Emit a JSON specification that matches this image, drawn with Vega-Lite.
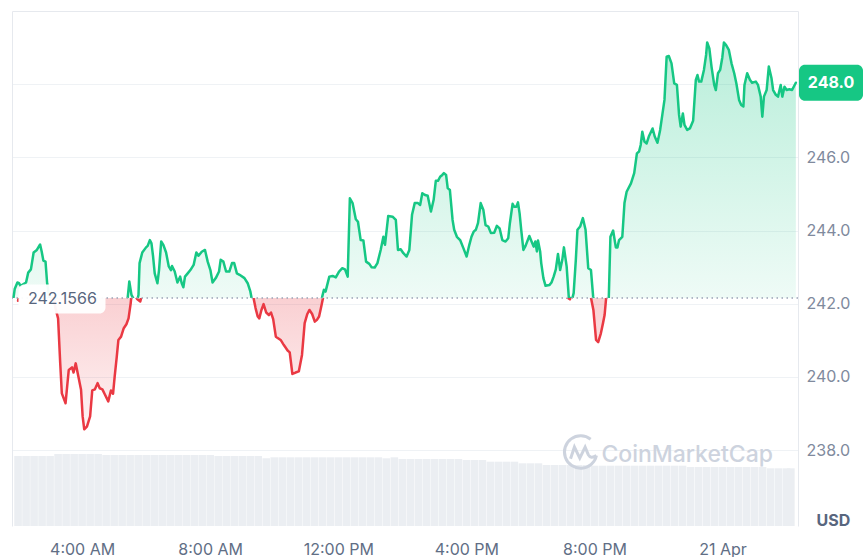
{
  "$schema": "https://vega.github.io/schema/vega-lite/v6.json",
  "padding": {"left": 11, "top": 11, "right": 0, "bottom": 0},
  "spacing": 0,
  "bounds": "flush",
  "config": {
    "font": "Inter",
    "view": {"stroke": null},
    "axis": {"labelFont": "Inter", "titleFont": "Inter", "domainColor": "#e6e9ee", "gridColor": "#eff2f5", "labelColor": "#808a9d", "labelFontSize": 16, "ticks": false}
  },
  "datasets": {
    "price": [
      {"t":"2024-04-20T02:00Z","p":242.08},{"t":"2024-04-20T02:03Z","p":242.40},{"t":"2024-04-20T02:08Z","p":242.58},{"t":"2024-04-20T02:11Z","p":242.56},{"t":"2024-04-20T02:14Z","p":242.49},{"t":"2024-04-20T02:24Z","p":242.58},{"t":"2024-04-20T02:28Z","p":242.85},{"t":"2024-04-20T02:33Z","p":242.94},{"t":"2024-04-20T02:38Z","p":243.40},{"t":"2024-04-20T02:44Z","p":243.47},{"t":"2024-04-20T02:50Z","p":243.62},{"t":"2024-04-20T02:53Z","p":243.42},{"t":"2024-04-20T02:56Z","p":243.18},{"t":"2024-04-20T03:00Z","p":243.15},{"t":"2024-04-20T03:03Z","p":242.56},{"t":"2024-04-20T03:10Z","p":241.88},{"t":"2024-04-20T03:15Z","p":241.60},{"t":"2024-04-20T03:19Z","p":240.37},{"t":"2024-04-20T03:22Z","p":239.55},{"t":"2024-04-20T03:29Z","p":239.28},{"t":"2024-04-20T03:32Z","p":239.74},{"t":"2024-04-20T03:35Z","p":240.19},{"t":"2024-04-20T03:41Z","p":240.26},{"t":"2024-04-20T03:44Z","p":240.12},{"t":"2024-04-20T03:48Z","p":240.37},{"t":"2024-04-20T03:53Z","p":240.01},{"t":"2024-04-20T03:58Z","p":239.65},{"t":"2024-04-20T04:01Z","p":238.92},{"t":"2024-04-20T04:04Z","p":238.57},{"t":"2024-04-20T04:09Z","p":238.64},{"t":"2024-04-20T04:15Z","p":238.92},{"t":"2024-04-20T04:19Z","p":239.63},{"t":"2024-04-20T04:24Z","p":239.66},{"t":"2024-04-20T04:29Z","p":239.83},{"t":"2024-04-20T04:33Z","p":239.69},{"t":"2024-04-20T04:38Z","p":239.66},{"t":"2024-04-20T04:42Z","p":239.54},{"t":"2024-04-20T04:49Z","p":239.33},{"t":"2024-04-20T04:54Z","p":239.63},{"t":"2024-04-20T04:58Z","p":239.54},{"t":"2024-04-20T05:01Z","p":240.01},{"t":"2024-04-20T05:05Z","p":240.56},{"t":"2024-04-20T05:08Z","p":241.01},{"t":"2024-04-20T05:13Z","p":241.10},{"t":"2024-04-20T05:18Z","p":241.33},{"t":"2024-04-20T05:23Z","p":241.44},{"t":"2024-04-20T05:27Z","p":241.60},{"t":"2024-04-20T05:31Z","p":242.01},{"t":"2024-04-20T05:35Z","p":242.61},{"t":"2024-04-20T05:39Z","p":242.24},{"t":"2024-04-20T05:43Z","p":242.13},{"t":"2024-04-20T05:49Z","p":242.06},{"t":"2024-04-20T05:52Z","p":242.24},{"t":"2024-04-20T05:54Z","p":243.11},{"t":"2024-04-20T05:59Z","p":243.40},{"t":"2024-04-20T06:06Z","p":243.54},{"t":"2024-04-20T06:09Z","p":243.58},{"t":"2024-04-20T06:13Z","p":243.74},{"t":"2024-04-20T06:16Z","p":243.65},{"t":"2024-04-20T06:19Z","p":243.29},{"t":"2024-04-20T06:22Z","p":242.83},{"t":"2024-04-20T06:27Z","p":242.56},{"t":"2024-04-20T06:30Z","p":242.92},{"t":"2024-04-20T06:34Z","p":243.70},{"t":"2024-04-20T06:38Z","p":243.61},{"t":"2024-04-20T06:43Z","p":243.40},{"t":"2024-04-20T06:48Z","p":243.02},{"t":"2024-04-20T06:52Z","p":242.92},{"t":"2024-04-20T06:54Z","p":243.03},{"t":"2024-04-20T06:59Z","p":242.88},{"t":"2024-04-20T07:04Z","p":242.58},{"t":"2024-04-20T07:09Z","p":242.74},{"t":"2024-04-20T07:12Z","p":242.56},{"t":"2024-04-20T07:15Z","p":242.45},{"t":"2024-04-20T07:18Z","p":242.74},{"t":"2024-04-20T07:23Z","p":242.83},{"t":"2024-04-20T07:28Z","p":242.92},{"t":"2024-04-20T07:34Z","p":243.06},{"t":"2024-04-20T07:39Z","p":243.40},{"t":"2024-04-20T07:43Z","p":243.31},{"t":"2024-04-20T07:49Z","p":243.42},{"t":"2024-04-20T07:55Z","p":243.47},{"t":"2024-04-20T08:00Z","p":243.15},{"t":"2024-04-20T08:05Z","p":242.92},{"t":"2024-04-20T08:09Z","p":242.58},{"t":"2024-04-20T08:15Z","p":242.70},{"t":"2024-04-20T08:21Z","p":242.88},{"t":"2024-04-20T08:24Z","p":243.20},{"t":"2024-04-20T08:29Z","p":243.15},{"t":"2024-04-20T08:34Z","p":242.88},{"t":"2024-04-20T08:40Z","p":242.88},{"t":"2024-04-20T08:45Z","p":243.11},{"t":"2024-04-20T08:49Z","p":243.11},{"t":"2024-04-20T08:54Z","p":242.83},{"t":"2024-04-20T08:59Z","p":242.79},{"t":"2024-04-20T09:08Z","p":242.70},{"t":"2024-04-20T09:14Z","p":242.56},{"t":"2024-04-20T09:19Z","p":242.33},{"t":"2024-04-20T09:21Z","p":242.17},{"t":"2024-04-20T09:25Z","p":241.88},{"t":"2024-04-20T09:29Z","p":241.65},{"t":"2024-04-20T09:32Z","p":241.60},{"t":"2024-04-20T09:36Z","p":241.83},{"t":"2024-04-20T09:40Z","p":241.99},{"t":"2024-04-20T09:45Z","p":241.76},{"t":"2024-04-20T09:50Z","p":241.69},{"t":"2024-04-20T09:54Z","p":241.76},{"t":"2024-04-20T09:58Z","p":241.58},{"t":"2024-04-20T10:03Z","p":241.10},{"t":"2024-04-20T10:12Z","p":241.01},{"t":"2024-04-20T10:18Z","p":240.87},{"t":"2024-04-20T10:25Z","p":240.72},{"t":"2024-04-20T10:29Z","p":240.67},{"t":"2024-04-20T10:34Z","p":240.08},{"t":"2024-04-20T10:40Z","p":240.12},{"t":"2024-04-20T10:46Z","p":240.15},
      {"t":"2024-04-20T10:52Z","p":240.60},{"t":"2024-04-20T10:57Z","p":241.47},{"t":"2024-04-20T11:02Z","p":241.72},{"t":"2024-04-20T11:06Z","p":241.83},{"t":"2024-04-20T11:11Z","p":241.72},{"t":"2024-04-20T11:16Z","p":241.51},{"t":"2024-04-20T11:20Z","p":241.56},{"t":"2024-04-20T11:24Z","p":241.65},{"t":"2024-04-20T11:28Z","p":241.92},{"t":"2024-04-20T11:32Z","p":242.20},{"t":"2024-04-20T11:35Z","p":242.38},{"t":"2024-04-20T11:38Z","p":242.33},{"t":"2024-04-20T11:45Z","p":242.74},{"t":"2024-04-20T11:51Z","p":242.76},{"t":"2024-04-20T11:57Z","p":242.72},{"t":"2024-04-20T12:03Z","p":242.88},{"t":"2024-04-20T12:09Z","p":242.97},{"t":"2024-04-20T12:14Z","p":242.94},{"t":"2024-04-20T12:19Z","p":242.74},{"t":"2024-04-20T12:23Z","p":244.88},{"t":"2024-04-20T12:28Z","p":244.75},{"t":"2024-04-20T12:34Z","p":244.31},{"t":"2024-04-20T12:38Z","p":244.24},{"t":"2024-04-20T12:43Z","p":243.74},{"t":"2024-04-20T12:48Z","p":243.73},{"t":"2024-04-20T12:53Z","p":243.15},{"t":"2024-04-20T12:59Z","p":243.09},{"t":"2024-04-20T13:03Z","p":243.00},{"t":"2024-04-20T13:09Z","p":242.99},{"t":"2024-04-20T13:14Z","p":243.11},{"t":"2024-04-20T13:20Z","p":243.47},{"t":"2024-04-20T13:25Z","p":243.83},{"t":"2024-04-20T13:28Z","p":243.61},{"t":"2024-04-20T13:34Z","p":244.40},{"t":"2024-04-20T13:42Z","p":244.38},{"t":"2024-04-20T13:48Z","p":244.29},{"t":"2024-04-20T13:52Z","p":243.47},{"t":"2024-04-20T13:57Z","p":243.49},{"t":"2024-04-20T14:02Z","p":243.38},{"t":"2024-04-20T14:08Z","p":243.29},{"t":"2024-04-20T14:13Z","p":243.47},{"t":"2024-04-20T14:18Z","p":244.43},{"t":"2024-04-20T14:23Z","p":244.75},{"t":"2024-04-20T14:29Z","p":244.75},{"t":"2024-04-20T14:33Z","p":244.70},{"t":"2024-04-20T14:37Z","p":245.02},{"t":"2024-04-20T14:42Z","p":244.97},{"t":"2024-04-20T14:47Z","p":244.95},{"t":"2024-04-20T14:53Z","p":244.52},{"t":"2024-04-20T14:58Z","p":244.84},{"t":"2024-04-20T15:02Z","p":245.36},{"t":"2024-04-20T15:06Z","p":245.36},{"t":"2024-04-20T15:10Z","p":245.47},{"t":"2024-04-20T15:14Z","p":245.52},{"t":"2024-04-20T15:17Z","p":245.57},{"t":"2024-04-20T15:21Z","p":245.52},{"t":"2024-04-20T15:24Z","p":245.16},{"t":"2024-04-20T15:28Z","p":245.11},{"t":"2024-04-20T15:33Z","p":244.29},{"t":"2024-04-20T15:36Z","p":244.02},{"t":"2024-04-20T15:41Z","p":243.83},{"t":"2024-04-20T15:47Z","p":243.74},{"t":"2024-04-20T15:53Z","p":243.52},{"t":"2024-04-20T15:59Z","p":243.29},{"t":"2024-04-20T16:04Z","p":243.61},{"t":"2024-04-20T16:08Z","p":243.83},{"t":"2024-04-20T16:12Z","p":243.97},{"t":"2024-04-20T16:16Z","p":244.02},{"t":"2024-04-20T16:20Z","p":244.20},{"t":"2024-04-20T16:25Z","p":244.75},{"t":"2024-04-20T16:30Z","p":244.56},{"t":"2024-04-20T16:34Z","p":244.15},{"t":"2024-04-20T16:39Z","p":244.11},{"t":"2024-04-20T16:44Z","p":243.93},{"t":"2024-04-20T16:50Z","p":243.94},{"t":"2024-04-20T16:55Z","p":244.13},{"t":"2024-04-20T17:00Z","p":244.06},{"t":"2024-04-20T17:05Z","p":243.74},{"t":"2024-04-20T17:11Z","p":243.70},{"t":"2024-04-20T17:16Z","p":243.79},{"t":"2024-04-20T17:19Z","p":244.20},{"t":"2024-04-20T17:24Z","p":244.73},{"t":"2024-04-20T17:27Z","p":244.65},{"t":"2024-04-20T17:31Z","p":244.65},{"t":"2024-04-20T17:34Z","p":244.77},{"t":"2024-04-20T17:37Z","p":244.47},{"t":"2024-04-20T17:40Z","p":244.02},{"t":"2024-04-20T17:44Z","p":243.47},{"t":"2024-04-20T17:48Z","p":243.58},{"t":"2024-04-20T17:55Z","p":243.85},{"t":"2024-04-20T17:58Z","p":243.74},{"t":"2024-04-20T18:03Z","p":243.56},{"t":"2024-04-20T18:06Z","p":243.70},{"t":"2024-04-20T18:09Z","p":243.43},{"t":"2024-04-20T18:11Z","p":243.73},{"t":"2024-04-20T18:15Z","p":243.43},{"t":"2024-04-20T18:17Z","p":243.11},{"t":"2024-04-20T18:21Z","p":242.70},{"t":"2024-04-20T18:25Z","p":242.49},{"t":"2024-04-20T18:32Z","p":242.51},{"t":"2024-04-20T18:36Z","p":242.58},{"t":"2024-04-20T18:40Z","p":242.74},{"t":"2024-04-20T18:44Z","p":242.94},{"t":"2024-04-20T18:48Z","p":243.36},{"t":"2024-04-20T18:52Z","p":242.92},{"t":"2024-04-20T18:56Z","p":243.20},{"t":"2024-04-20T18:59Z","p":243.54},{"t":"2024-04-20T19:04Z","p":243.02},{"t":"2024-04-20T19:08Z","p":242.18},{"t":"2024-04-20T19:14Z","p":242.12},{"t":"2024-04-20T19:17Z","p":242.29},{"t":"2024-04-20T19:21Z","p":243.20},{"t":"2024-04-20T19:24Z","p":244.02},{"t":"2024-04-20T19:29Z","p":244.11},{"t":"2024-04-20T19:34Z","p":244.34},{"t":"2024-04-20T19:39Z","p":244.02},{"t":"2024-04-20T19:44Z","p":242.97},{"t":"2024-04-20T19:49Z","p":242.92},{"t":"2024-04-20T19:53Z","p":242.20},{"t":"2024-04-20T19:58Z","p":241.83},{"t":"2024-04-20T20:03Z","p":241.01},{"t":"2024-04-20T20:07Z","p":240.95},{"t":"2024-04-20T20:12Z","p":241.19},{"t":"2024-04-20T20:16Z","p":241.47},{"t":"2024-04-20T20:19Z","p":241.69},{"t":"2024-04-20T20:22Z","p":242.18},{"t":"2024-04-20T20:25Z","p":243.83},{"t":"2024-04-20T20:30Z","p":244.00},{"t":"2024-04-20T20:35Z","p":243.54},{"t":"2024-04-20T20:38Z","p":243.54},{"t":"2024-04-20T20:41Z","p":243.74},
      {"t":"2024-04-20T20:47Z","p":243.83},{"t":"2024-04-20T20:51Z","p":244.75},{"t":"2024-04-20T20:55Z","p":245.06},{"t":"2024-04-20T21:03Z","p":245.29},{"t":"2024-04-20T21:09Z","p":245.57},{"t":"2024-04-20T21:14Z","p":246.11},{"t":"2024-04-20T21:18Z","p":246.16},{"t":"2024-04-20T21:21Z","p":246.34},{"t":"2024-04-20T21:24Z","p":246.70},{"t":"2024-04-20T21:28Z","p":246.43},{"t":"2024-04-20T21:32Z","p":246.38},{"t":"2024-04-20T21:36Z","p":246.57},{"t":"2024-04-20T21:43Z","p":246.79},{"t":"2024-04-20T21:47Z","p":246.57},{"t":"2024-04-20T21:52Z","p":246.40},{"t":"2024-04-20T21:57Z","p":246.75},{"t":"2024-04-20T22:01Z","p":247.16},{"t":"2024-04-20T22:05Z","p":247.57},{"t":"2024-04-20T22:09Z","p":248.75},{"t":"2024-04-20T22:13Z","p":248.77},{"t":"2024-04-20T22:18Z","p":248.57},{"t":"2024-04-20T22:23Z","p":248.02},{"t":"2024-04-20T22:28Z","p":247.98},{"t":"2024-04-20T22:32Z","p":247.16},{"t":"2024-04-20T22:35Z","p":246.84},{"t":"2024-04-20T22:39Z","p":247.20},{"t":"2024-04-20T22:42Z","p":246.89},{"t":"2024-04-20T22:47Z","p":246.75},{"t":"2024-04-20T22:52Z","p":246.79},{"t":"2024-04-20T22:58Z","p":247.00},{"t":"2024-04-20T23:03Z","p":248.12},{"t":"2024-04-20T23:06Z","p":248.25},{"t":"2024-04-20T23:09Z","p":248.07},{"t":"2024-04-20T23:13Z","p":248.07},{"t":"2024-04-20T23:18Z","p":248.39},{"t":"2024-04-20T23:22Z","p":248.80},{"t":"2024-04-20T23:24Z","p":249.14},{"t":"2024-04-20T23:28Z","p":248.98},{"t":"2024-04-20T23:32Z","p":248.48},{"t":"2024-04-20T23:37Z","p":247.98},{"t":"2024-04-20T23:40Z","p":247.84},{"t":"2024-04-20T23:44Z","p":248.30},{"t":"2024-04-20T23:48Z","p":248.39},{"t":"2024-04-20T23:52Z","p":248.73},{"t":"2024-04-20T23:55Z","p":249.14},{"t":"2024-04-20T23:59Z","p":249.07},{"t":"2024-04-21T00:04Z","p":248.94},{"t":"2024-04-21T00:09Z","p":248.57},{"t":"2024-04-21T00:14Z","p":248.30},{"t":"2024-04-21T00:18Z","p":248.02},{"t":"2024-04-21T00:23Z","p":247.57},{"t":"2024-04-21T00:27Z","p":247.43},{"t":"2024-04-21T00:31Z","p":247.39},{"t":"2024-04-21T00:33Z","p":247.98},{"t":"2024-04-21T00:38Z","p":248.30},{"t":"2024-04-21T00:43Z","p":248.12},{"t":"2024-04-21T00:47Z","p":248.04},{"t":"2024-04-21T00:54Z","p":248.07},{"t":"2024-04-21T00:58Z","p":247.98},{"t":"2024-04-21T01:03Z","p":247.66},{"t":"2024-04-21T01:06Z","p":247.11},{"t":"2024-04-21T01:09Z","p":247.66},{"t":"2024-04-21T01:14Z","p":247.84},{"t":"2024-04-21T01:18Z","p":248.48},{"t":"2024-04-21T01:23Z","p":248.16},{"t":"2024-04-21T01:26Z","p":247.84},{"t":"2024-04-21T01:31Z","p":247.71},{"t":"2024-04-21T01:35Z","p":247.66},{"t":"2024-04-21T01:40Z","p":247.98},{"t":"2024-04-21T01:43Z","p":247.66},{"t":"2024-04-21T01:47Z","p":247.93},{"t":"2024-04-21T01:51Z","p":247.84},{"t":"2024-04-21T01:56Z","p":247.86},{"t":"2024-04-21T02:01Z","p":247.84},{"t":"2024-04-21T02:08Z","p":248.04}
    ],
    "volume": [
      {"t":"2024-04-20T02:00Z","vol":70},{"t":"2024-04-20T02:15Z","vol":70},{"t":"2024-04-20T02:30Z","vol":70},{"t":"2024-04-20T02:45Z","vol":70},{"t":"2024-04-20T03:00Z","vol":70},
      {"t":"2024-04-20T03:15Z","vol":72},{"t":"2024-04-20T03:30Z","vol":72},{"t":"2024-04-20T03:45Z","vol":72},{"t":"2024-04-20T04:00Z","vol":72},{"t":"2024-04-20T04:15Z","vol":72},{"t":"2024-04-20T04:30Z","vol":72},
      {"t":"2024-04-20T04:45Z","vol":71},{"t":"2024-04-20T05:00Z","vol":71},{"t":"2024-04-20T05:15Z","vol":71},{"t":"2024-04-20T05:30Z","vol":71},{"t":"2024-04-20T05:45Z","vol":71},{"t":"2024-04-20T06:00Z","vol":71},{"t":"2024-04-20T06:15Z","vol":71},{"t":"2024-04-20T06:30Z","vol":71},{"t":"2024-04-20T06:45Z","vol":71},{"t":"2024-04-20T07:00Z","vol":71},{"t":"2024-04-20T07:15Z","vol":71},{"t":"2024-04-20T07:30Z","vol":71},{"t":"2024-04-20T07:45Z","vol":71},{"t":"2024-04-20T08:00Z","vol":71},
      {"t":"2024-04-20T08:15Z","vol":70},{"t":"2024-04-20T08:30Z","vol":70},{"t":"2024-04-20T08:45Z","vol":70},{"t":"2024-04-20T09:00Z","vol":70},{"t":"2024-04-20T09:15Z","vol":70},{"t":"2024-04-20T09:30Z","vol":70},
      {"t":"2024-04-20T09:45Z","vol":67.7},
      {"t":"2024-04-20T10:00Z","vol":68.7},{"t":"2024-04-20T10:15Z","vol":68.7},{"t":"2024-04-20T10:30Z","vol":68.7},{"t":"2024-04-20T10:45Z","vol":68.7},{"t":"2024-04-20T11:00Z","vol":68.7},{"t":"2024-04-20T11:15Z","vol":68.7},{"t":"2024-04-20T11:30Z","vol":68.7},{"t":"2024-04-20T11:45Z","vol":68.7},{"t":"2024-04-20T12:00Z","vol":68.7},{"t":"2024-04-20T12:15Z","vol":68.7},{"t":"2024-04-20T12:30Z","vol":68.7},{"t":"2024-04-20T12:45Z","vol":68.7},{"t":"2024-04-20T13:00Z","vol":68.7},{"t":"2024-04-20T13:15Z","vol":68.7},
      {"t":"2024-04-20T13:30Z","vol":67.7},{"t":"2024-04-20T13:45Z","vol":68.7},
      {"t":"2024-04-20T14:00Z","vol":67},{"t":"2024-04-20T14:15Z","vol":67},{"t":"2024-04-20T14:30Z","vol":67},{"t":"2024-04-20T14:45Z","vol":67},{"t":"2024-04-20T15:00Z","vol":67},{"t":"2024-04-20T15:15Z","vol":67},{"t":"2024-04-20T15:30Z","vol":67},{"t":"2024-04-20T15:45Z","vol":67},
      {"t":"2024-04-20T16:00Z","vol":66},{"t":"2024-04-20T16:15Z","vol":66},{"t":"2024-04-20T16:30Z","vol":66},
      {"t":"2024-04-20T16:45Z","vol":64.3},{"t":"2024-04-20T17:00Z","vol":64.3},{"t":"2024-04-20T17:15Z","vol":64.3},{"t":"2024-04-20T17:30Z","vol":64.3},
      {"t":"2024-04-20T17:45Z","vol":62.7},{"t":"2024-04-20T18:00Z","vol":62.7},{"t":"2024-04-20T18:15Z","vol":62.7},
      {"t":"2024-04-20T18:30Z","vol":61},{"t":"2024-04-20T18:45Z","vol":61},{"t":"2024-04-20T19:00Z","vol":61},{"t":"2024-04-20T19:15Z","vol":61},{"t":"2024-04-20T19:30Z","vol":61},{"t":"2024-04-20T19:45Z","vol":61},
      {"t":"2024-04-20T20:00Z","vol":60.3},{"t":"2024-04-20T20:15Z","vol":60.3},{"t":"2024-04-20T20:30Z","vol":60.3},{"t":"2024-04-20T20:45Z","vol":60.3},{"t":"2024-04-20T21:00Z","vol":60.3},{"t":"2024-04-20T21:15Z","vol":60.3},{"t":"2024-04-20T21:30Z","vol":60.3},{"t":"2024-04-20T21:45Z","vol":60.3},{"t":"2024-04-20T22:00Z","vol":60.3},{"t":"2024-04-20T22:15Z","vol":60.3},{"t":"2024-04-20T22:30Z","vol":60.3},{"t":"2024-04-20T22:45Z","vol":60.3},
      {"t":"2024-04-20T23:00Z","vol":59},{"t":"2024-04-20T23:15Z","vol":59},{"t":"2024-04-20T23:30Z","vol":59},{"t":"2024-04-20T23:45Z","vol":59},{"t":"2024-04-21T00:00Z","vol":59},{"t":"2024-04-21T00:15Z","vol":59},{"t":"2024-04-21T00:30Z","vol":59},{"t":"2024-04-21T00:45Z","vol":59},{"t":"2024-04-21T01:00Z","vol":59},{"t":"2024-04-21T01:15Z","vol":59},
      {"t":"2024-04-21T01:30Z","vol":57.7},{"t":"2024-04-21T01:45Z","vol":57.7},{"t":"2024-04-21T02:00Z","vol":57.7},{"t":"2024-04-21T02:08Z","vol":57.7}
    ]
  },
  "vconcat": [
    {
      "width": 786,
      "height": 287,
      "layer": [
        {
          "data": {"name": "price"},
          "mark": {"type": "area", "clip": true, "color": {"gradient": "linear", "x1": 0, "y1": 0, "x2": 0, "y2": 1, "stops": [{"offset": 0, "color": "rgba(22,199,132,0.30)"}, {"offset": 1, "color": "rgba(22,199,132,0.07)"}]}},
          "encoding": {
            "x": {"field": "t", "type": "temporal", "scale": {"type": "utc", "domain": [{"year": 2024, "month": "apr", "date": 20, "hours": 1, "minutes": 58, "utc": true}, {"year": 2024, "month": "apr", "date": 21, "hours": 2, "minutes": 12, "utc": true}]}, "axis": {"orient": "top", "labels": false, "ticks": false, "grid": false, "domain": true, "title": null}},
            "y": {"field": "p", "type": "quantitative", "scale": {"domain": [242.1566, 250], "clamp": true, "nice": false, "zero": false}, "axis": {"orient": "left", "labels": false, "ticks": false, "grid": false, "domain": true, "title": null}},
            "y2": {"datum": 242.1566}
          }
        },
        {
          "layer": [
            {
              "data": {"name": "price"},
              "mark": {"type": "line", "clip": true, "color": "#16c784", "strokeWidth": 2.5, "strokeJoin": "round", "strokeCap": "round"},
              "encoding": {
                "x": {"field": "t", "type": "temporal", "scale": {"type": "utc", "domain": [{"year": 2024, "month": "apr", "date": 20, "hours": 1, "minutes": 58, "utc": true}, {"year": 2024, "month": "apr", "date": 21, "hours": 2, "minutes": 12, "utc": true}]}, "axis": {"orient": "top", "labels": false, "ticks": false, "grid": false, "domain": true, "title": null}},
                "y": {"field": "p", "type": "quantitative", "scale": {"domain": [242.1566, 250], "nice": false, "zero": false}, "axis": {"orient": "right", "values": [244, 246, 248], "labelExpr": "datum.value == 248 ? '' : format(datum.value, '.1f')", "grid": true, "domain": true, "labelPadding": 8, "title": null}}
              }
            },
            {
              "data": {"values": [{}]},
              "mark": {"type": "rect", "color": "#16c784", "width": 64, "height": 36, "cornerRadius": 6, "xOffset": 33},
              "encoding": {
                "x": {"datum": {"year": 2024, "month": "apr", "date": 21, "hours": 2, "minutes": 12, "utc": true}, "type": "temporal"},
                "y": {"datum": 248.04}
              }
            },
            {
              "data": {"values": [{}]},
              "mark": {"type": "text", "color": "#ffffff", "fontWeight": "bold", "fontSize": 16, "font": "Inter", "align": "center", "baseline": "middle", "xOffset": 33},
              "encoding": {
                "x": {"datum": {"year": 2024, "month": "apr", "date": 21, "hours": 2, "minutes": 12, "utc": true}, "type": "temporal"},
                "y": {"datum": 248.04},
                "text": {"value": "248.0"}
              }
            }
          ]
        }
      ],
      "resolve": {"scale": {"y": "independent"}, "axis": {"y": "independent"}}
    },
    {
      "width": 786,
      "height": 228,
      "layer": [
        {
          "data": {"name": "volume"},
          "mark": {"type": "bar", "clip": true, "color": "#ebeef2", "width": 7.6},
          "encoding": {
            "x": {"field": "t", "type": "temporal", "scale": {"type": "utc", "domain": [{"year": 2024, "month": "apr", "date": 20, "hours": 1, "minutes": 58, "utc": true}, {"year": 2024, "month": "apr", "date": 21, "hours": 2, "minutes": 12, "utc": true}]}, "axis": {"orient": "bottom", "values": [{"year": 2024, "month": "apr", "date": 20, "hours": 4, "utc": true}, {"year": 2024, "month": "apr", "date": 20, "hours": 8, "utc": true}, {"year": 2024, "month": "apr", "date": 20, "hours": 12, "utc": true}, {"year": 2024, "month": "apr", "date": 20, "hours": 16, "utc": true}, {"year": 2024, "month": "apr", "date": 20, "hours": 20, "utc": true}, {"year": 2024, "month": "apr", "date": 21, "hours": 0, "utc": true}], "labelExpr": "utchours(datum.value) == 0 ? utcFormat(datum.value, '%-d %b') : utcFormat(datum.value, '%-I:%M %p')", "labelColor": "#616e85", "labelPadding": 15, "ticks": false, "grid": false, "domain": false, "title": null}},
            "y": {"field": "vol", "type": "quantitative", "scale": {"domain": [0, 228]}, "axis": null}
          }
        },
        {
          "data": {"name": "price"},
          "mark": {"type": "area", "clip": true, "color": {"gradient": "linear", "x1": 0, "y1": 0, "x2": 0, "y2": 1, "stops": [{"offset": 0, "color": "rgba(234,57,67,0.24)"}, {"offset": 1, "color": "rgba(234,57,67,0.06)"}]}},
          "encoding": {
            "x": {"field": "t", "type": "temporal"},
            "y": {"field": "p", "type": "quantitative", "scale": {"domain": [235.925, 242.1566], "clamp": true, "nice": false, "zero": false}, "axis": {"orient": "left", "labels": false, "ticks": false, "grid": false, "domain": true, "title": null}},
            "y2": {"datum": 242.1566}
          }
        },
        {
          "layer": [
            {
              "data": {"name": "price"},
              "mark": {"type": "line", "clip": true, "color": "#ea3943", "strokeWidth": 2.5, "strokeJoin": "round", "strokeCap": "round"},
              "encoding": {
                "x": {"field": "t", "type": "temporal"},
                "y": {"field": "p", "type": "quantitative", "scale": {"domain": [235.925, 242.1566], "nice": false, "zero": false}, "axis": {"orient": "right", "values": [238, 240, 242], "format": ".1f", "grid": true, "domain": true, "labelPadding": 8, "title": "USD", "titleAngle": 0, "titleAlign": "left", "titleBaseline": "alphabetic", "titleX": 18, "titleY": 227, "titleFontSize": 16, "titleFontWeight": "bold", "titleColor": "#58667e"}}
              }
            },
            {
              "data": {"values": [{}]},
              "mark": {"type": "rule", "color": "#9aa3b5", "strokeWidth": 1.5, "strokeDash": [1.5, 3.5]},
              "encoding": {"y": {"datum": 242.1566}}
            },
            {
              "data": {"values": [{}]},
              "mark": {"type": "rect", "color": "#ffffff", "opacity": 0.95, "width": 87, "height": 29, "cornerRadius": 6, "xOffset": 45, "yOffset": 1},
              "encoding": {
                "x": {"datum": {"year": 2024, "month": "apr", "date": 20, "hours": 1, "minutes": 58, "utc": true}, "type": "temporal"},
                "y": {"datum": 242.1566}
              }
            },
            {
              "data": {"values": [{}]},
              "mark": {"type": "text", "color": "#58667e", "fontSize": 16, "font": "Inter", "align": "left", "baseline": "middle", "dx": 11, "dy": 1},
              "encoding": {
                "x": {"datum": {"year": 2024, "month": "apr", "date": 20, "hours": 1, "minutes": 58, "utc": true}, "type": "temporal"},
                "y": {"datum": 242.1566},
                "text": {"value": "242.1566"}
              }
            },
            {
              "data": {"values": [{}]},
              "mark": {"type": "point", "shape": "M0.62,-0.78 A1,1 0 1,0 0.98,0.22 M-0.62,0.42 L-0.38,-0.3 L-0.05,0.38 L0.28,-0.3 L0.48,0.18 Q0.62,0.45 0.98,0.22", "filled": false, "size": 1050, "strokeWidth": 3, "color": "#cdd3de", "opacity": 1},
              "encoding": {
                "x": {"datum": {"year": 2024, "month": "apr", "date": 20, "hours": 19, "minutes": 34, "utc": true}, "type": "temporal"},
                "y": {"datum": 237.95}
              }
            },
            {
              "data": {"values": [{}]},
              "mark": {"type": "text", "color": "#cdd3de", "fontSize": 23, "fontWeight": 500, "font": "Inter", "align": "left", "baseline": "middle"},
              "encoding": {
                "x": {"datum": {"year": 2024, "month": "apr", "date": 20, "hours": 20, "minutes": 13, "utc": true}, "type": "temporal"},
                "y": {"datum": 237.87},
                "text": {"value": "CoinMarketCap"}
              }
            }
          ]
        }
      ],
      "resolve": {"scale": {"y": "independent"}, "axis": {"y": "independent"}}
    }
  ]
}
